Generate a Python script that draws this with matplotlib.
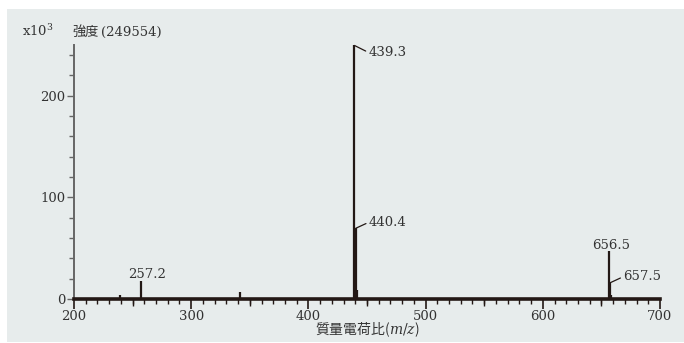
import matplotlib.pyplot as plt
from matplotlib.patches import Rectangle
from matplotlib.ticker import MultipleLocator

# peak list (m/z, intensity x10^3)
mz = [239.2, 257.2, 341.6, 439.3, 440.4, 441.4, 656.5, 657.5, 658.5]
intensity = [4, 18, 6.5, 249.554, 69.6, 9, 47.6, 16, 3.5]

# labelled peaks
labels = ['257.2', '439.3', '440.4', '656.5', '657.5']

plt.rcParams['mathtext.fontset'] = 'dejavuserif'
serif = 'DejaVu Serif'
jp = 'Noto Sans CJK JP'
ink = '#231815'
txt = '#333333'

fig = plt.figure(figsize=(6.84, 3.43), dpi=100)
fig.patches.append(Rectangle((7 / 684, 1 / 343), 1, 333 / 343, transform=fig.transFigure,
                             facecolor='#e7ecec', edgecolor='none', zorder=-10))

ax = fig.add_axes([74 / 684, 44 / 343, 586 / 684, 254 / 343])
ax.set_facecolor('none')
ax.vlines(mz, 0, intensity, color=ink, lw=1.6)

ax.set_xlim(200, 700)
ax.set_ylim(0, 250)
for s in ['top', 'right']:
    ax.spines[s].set_visible(False)
ax.spines['bottom'].set_linewidth(2.6)
ax.spines['bottom'].set_color(ink)
ax.spines['left'].set_linewidth(1.4)
ax.spines['left'].set_color('#666666')

ax.xaxis.set_major_locator(MultipleLocator(100))
ax.xaxis.set_minor_locator(MultipleLocator(10))
ax.yaxis.set_major_locator(MultipleLocator(100))
ax.yaxis.set_minor_locator(MultipleLocator(20))
ax.tick_params(axis='x', which='major', length=7, width=1.2, color=ink, pad=1,
               labelsize=9.5, labelcolor=txt)
ax.tick_params(axis='x', which='minor', length=3.5, width=1.0, color=ink)
ax.tick_params(axis='y', which='major', length=5, width=1.0, color='#666666', pad=1,
               labelsize=9.5, labelcolor=txt)
ax.tick_params(axis='y', which='minor', length=3.5, width=1.0, color='#666666')
for lab in ax.get_xticklabels() + ax.get_yticklabels():
    lab.set_family(serif)

# medium ticks at the 50s
sec = ax.secondary_xaxis('bottom')
sec.set_xticks(range(250, 700, 100))
sec.tick_params(length=5, width=1.0, color=ink, labelbottom=False)
sec.spines['bottom'].set_visible(False)

ax.set_xlabel('質量電荷比($m/z$)', family=jp, fontsize=10, color=txt, labelpad=-2)

# peak annotations
ann = {'257.2': ((6, 0), 'center', 'bottom', False),
       '439.3': ((14, -7), 'left', 'center', True),
       '440.4': ((13, 6), 'left', 'center', True),
       '656.5': ((2, -1), 'center', 'bottom', False),
       '657.5': ((13, 6), 'left', 'center', True)}
for x, y in zip(mz, intensity):
    key = f'{x:.1f}'
    if key not in labels:
        continue
    off, ha, va, line = ann[key]
    ap = dict(arrowstyle='-', color=ink, lw=0.9, shrinkA=0, shrinkB=0,
              relpos=(0, 0.5)) if line else None
    ax.annotate(key, xy=(x, y), xytext=off, textcoords='offset pixels',
                ha=ha, va=va, family=serif, fontsize=9.5, color=txt, arrowprops=ap)

fig.text(22 / 684, 1 - 36 / 343, 'x10$^3$', family=serif, fontsize=9.5, color=txt,
         va='baseline')
fig.text(72 / 684, 1 - 36 / 343, '強度', family=jp, fontsize=9.5, color=txt, va='baseline')
fig.text(101 / 684, 1 - 36 / 343, '(249554)', family=serif, fontsize=9.5, color=txt,
         va='baseline')

fig.savefig('out.png', dpi=100)
